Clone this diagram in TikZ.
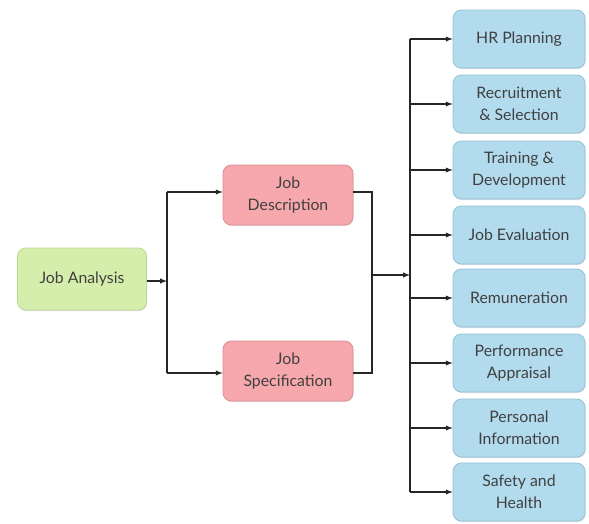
\documentclass[tikz,border=0pt]{standalone}
\usepackage{fontspec}
\setmainfont{Lato}
\usepackage{xcolor}
\usetikzlibrary{shadows}

\definecolor{jagreen}{RGB}{214,238,172}
\definecolor{jagreenline}{RGB}{186,212,150}
\definecolor{jared}{RGB}{246,168,172}
\definecolor{jaredline}{RGB}{222,142,146}
\definecolor{jablue}{RGB}{178,219,238}
\definecolor{jablueline}{RGB}{146,192,214}

\tikzset{
    jobbox/.style={rounded corners=7pt, align=center, text=black!75,
        font=\fontsize{13.5}{18.5}\selectfont, line width=0.6pt,
        drop shadow={shadow xshift=0.6pt, shadow yshift=-0.9pt, opacity=0.25}},
    greenbox/.style={jobbox, fill=jagreen, draw=jagreenline,
        minimum width=3.87cm, minimum height=1.86cm},
    redbox/.style={jobbox, fill=jared, draw=jaredline,
        minimum width=3.9cm, minimum height=1.8cm},
    bluebox/.style={jobbox, fill=jablue, draw=jablueline,
        minimum width=3.96cm, minimum height=1.74cm},
    link/.style={line width=1pt, black!85},
    arr/.style={link, -latex}
}

\begin{document}
\begin{tikzpicture}[x=0.03cm, y=-0.03cm]
    \useasboundingbox (0,0) rectangle (589,523);

    \node[greenbox] (analysis) at (82,279) {Job Analysis};
    \node[redbox] (desc) at (288,195) {Job\\Description};
    \node[redbox] (spec) at (288,371) {Job\\Specification};

    \foreach \n/\y/\t in {1/39/HR Planning, 2/104/Recruitment\\\& Selection,
                          3/170/Training \&\\Development, 4/235/Job Evaluation,
                          5/298/Remuneration, 6/363/Performance\\Appraisal,
                          7/428/Personal\\Information, 8/492/Safety and\\Health} {
        \node[bluebox] (b\n) at (519,\y) {\t};
        \coordinate (r\n) at (410,\y);
        \draw[arr] (r\n) -- (b\n.west);
    }

    \coordinate (lt) at (167,192);
    \coordinate (lb) at (167,373);
    \coordinate (lm) at (167,281);
    \coordinate (mt) at (372,192);
    \coordinate (mb) at (372,373);
    \coordinate (mm) at (372,275);
    \coordinate (rm) at (410,275);

    \draw[link] (lt) -- (lb);
    \draw[arr] (analysis.east |- lm) -- (lm);
    \draw[arr] (lt) -- (desc.west |- lt);
    \draw[arr] (lb) -- (spec.west |- lb);

    \draw[link] (desc.east |- mt) -- (mt) -- (mb) -- (spec.east |- mb);
    \draw[arr] (mm) -- (rm);
    \draw[link] (r1) -- (r8);
\end{tikzpicture}
\end{document}
